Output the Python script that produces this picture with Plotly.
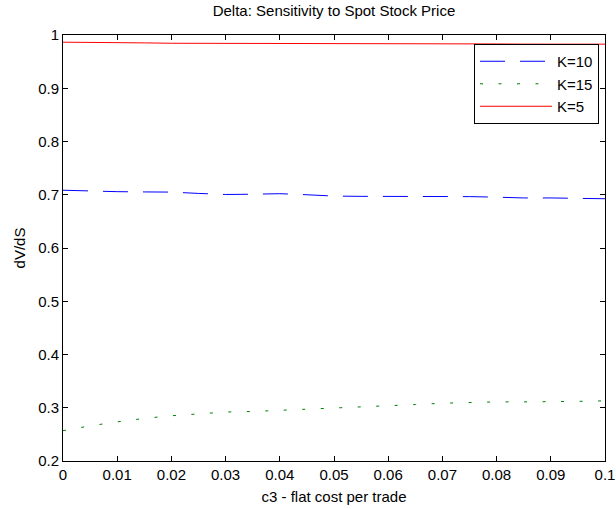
import plotly.graph_objects as go

c3 = [0.0, 0.005, 0.01, 0.015, 0.02, 0.025, 0.03, 0.035, 0.04, 0.045, 0.05,
      0.055, 0.06, 0.065, 0.07, 0.075, 0.08, 0.085, 0.09, 0.095, 0.1]

delta_k10 = [0.7085, 0.7065, 0.7058, 0.7053, 0.7050, 0.7025, 0.7005, 0.7010, 0.7020, 0.7000, 0.6975,
             0.6970, 0.6970, 0.6970, 0.6970, 0.6965, 0.6955, 0.6940, 0.6940, 0.6930, 0.6925]
delta_k15 = [0.257, 0.266, 0.2735, 0.280, 0.285, 0.289, 0.292, 0.293, 0.295, 0.297, 0.299,
             0.3015, 0.304, 0.306, 0.3085, 0.310, 0.311, 0.311, 0.311, 0.312, 0.313]
delta_k5 = [0.9865, 0.9865, 0.9862, 0.9852, 0.9845, 0.9845, 0.9845, 0.9845, 0.9845, 0.9845, 0.9845,
            0.9845, 0.9845, 0.9845, 0.9845, 0.9838, 0.9832, 0.9829, 0.9828, 0.9828, 0.9828]

series_names = ["K=10", "K=15", "K=5"]

x_ticks = [0, 0.01, 0.02, 0.03, 0.04, 0.05, 0.06, 0.07, 0.08, 0.09, 0.1]
x_tick_labels = ["0", "0.01", "0.02", "0.03", "0.04", "0.05", "0.06", "0.07", "0.08", "0.09", "0.1"]
y_ticks = [0.2, 0.3, 0.4, 0.5, 0.6, 0.7, 0.8, 0.9, 1.0]
y_tick_labels = ["0.2", "0.3", "0.4", "0.5", "0.6", "0.7", "0.8", "0.9", "1"]

FONT = "Liberation Sans, Arial, sans-serif"
FS = 15

fig = go.Figure()
fig.add_trace(go.Scatter(x=c3, y=delta_k10, mode="lines", name=series_names[0],
                         line=dict(color="#0000ff", width=1, dash="25px,15px")))
fig.add_trace(go.Scatter(x=c3, y=delta_k15, mode="lines", name=series_names[1],
                         line=dict(color="#008000", width=1, dash="3px,15.5px")))
fig.add_trace(go.Scatter(x=c3, y=delta_k5, mode="lines", name=series_names[2],
                         line=dict(color="#ff0000", width=1)))

axis_common = dict(showline=True, linecolor="black", linewidth=1, mirror="ticks",
                   ticks="inside", ticklen=5, tickcolor="black", tickwidth=1,
                   showgrid=False, zeroline=False, automargin=False,
                   tickfont=dict(family=FONT, size=FS, color="black"))

W, H = 616, 509
ML, MR, MT, MB = 63, 11, 35, 48
PW = W - ML - MR
PH = H - MT - MB

fig.update_layout(
    width=W, height=H,
    margin=dict(l=ML, r=MR, t=MT, b=MB, autoexpand=False),
    paper_bgcolor="white", plot_bgcolor="white",
    font=dict(family=FONT, size=FS, color="black"),
    title=dict(text="Delta: Sensitivity to Spot Stock Price", x=(ML + PW / 2) / W, xanchor="center",
               y=1 - 5 / H, yanchor="top", font=dict(family=FONT, size=FS, color="black")),
    xaxis=dict(range=[0, 0.1], tickvals=x_ticks, ticktext=x_tick_labels,
               title=dict(text="c3 - flat cost per trade", standoff=9,
                          font=dict(family=FONT, size=FS, color="black")),
               **axis_common),
    yaxis=dict(range=[0.2, 1.0], tickvals=y_ticks, ticktext=y_tick_labels,
               title=dict(text="dV/dS", standoff=8,
                          font=dict(family=FONT, size=FS, color="black")),
               **axis_common),
    showlegend=True,
    legend=dict(x=(599 - ML) / PW, y=(H - MB - 44) / PH, xanchor="right", yanchor="top",
                bgcolor="white", bordercolor="black", borderwidth=1,
                itemwidth=72, tracegroupgap=0,
                font=dict(family=FONT, size=FS, color="black")),
)

fig.write_html("out.html", config={"displayModeBar": False},
               post_script="document.body.style.margin='0';")
